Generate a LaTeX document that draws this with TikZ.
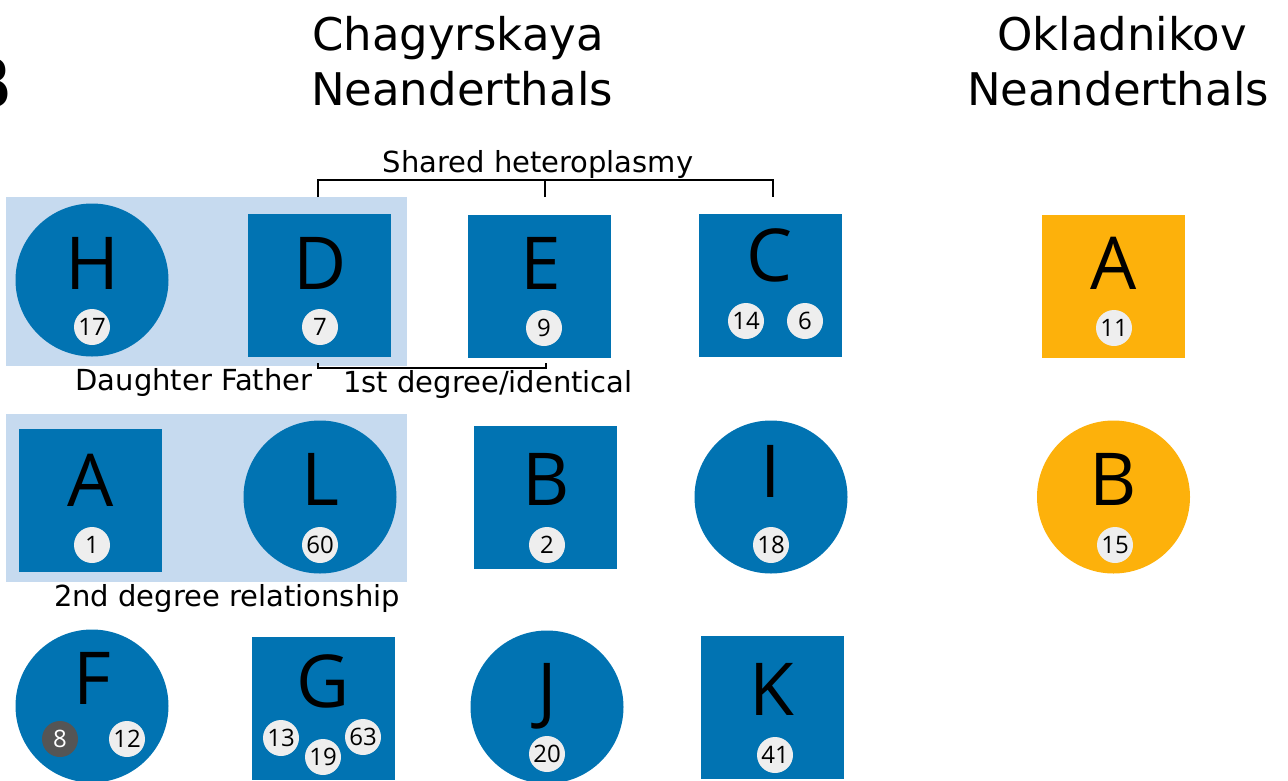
\documentclass[tikz,border=0pt]{standalone}
\usepackage{fontspec}
\setmainfont{DejaVu Sans}
\newfontfamily\opensans{Open Sans}
\definecolor{indblue}{HTML}{0173B2}
\definecolor{indorange}{HTML}{FDB10B}
\definecolor{pairband}{HTML}{C6DAEF}
\definecolor{badgegray}{HTML}{EEEEEE}
\definecolor{badgedark}{HTML}{555555}

\begin{document}
\begin{tikzpicture}[x=1pt, y=-1pt,
    male/.style={rectangle, fill=indblue, minimum size=143pt, inner sep=0pt},
    female/.style={circle, fill=indblue, minimum size=153pt, inner sep=0pt},
    okmale/.style={male, fill=indorange},
    okfemale/.style={female, fill=indorange},
    letter/.style={anchor=base, inner sep=0pt, font=\opensans\fontsize{73}{80}\selectfont},
    badge/.style={circle, fill=badgegray, minimum size=36pt, inner sep=0pt, font=\opensans\fontsize{24}{26}\selectfont},
    darkbadge/.style={badge, fill=badgedark, text=white},
    relnote/.style={anchor=base, inner sep=0pt, font=\fontsize{29}{34}\selectfont},
    heading/.style={anchor=base, inner sep=0pt, font=\fontsize{45}{55}\selectfont},
    bracket/.style={draw, line width=2pt}]
      \useasboundingbox (0,0) rectangle (1288,780);

      % related pairs
      \fill[pairband] (6,197) rectangle (407,366);
      \fill[pairband] (6,414) rectangle (407,582);

      \node[anchor=base east, inner sep=0pt, font=\bfseries\fontsize{70}{80}\selectfont] (panel) at (13,108) {B};
      \node[heading] (chag1) at (458,50) {Chagyrskaya};
      \node[heading] (chag2) at (462,105) {Neanderthals};
      \node[heading] (okla1) at (1122,50) {Okladnikov};
      \node[heading] (okla2) at (1118,105) {Neanderthals};

      % row 1
      \node[female] (H) at (92,280) {};
      \node[letter] (Hl) at (92,289) {H};
      \node[badge] (H17) at (92,327) {17};
      \node[male] (D) at (319.5,285) {};
      \node[letter] (Dl) at (320,289) {D};
      \node[badge] (D7) at (320,327) {7};
      \node[male] (E) at (539.5,286) {};
      \node[letter] (El) at (541,289) {E};
      \node[badge] (E9) at (544,328) {9};
      \node[male] (C) at (770.5,285) {};
      \node[letter] (Cl) at (770,281) {C};
      \node[badge] (C14) at (746,321) {14};
      \node[badge] (C6) at (805,321) {6};
      \node[okmale] (oA) at (1113.5,286) {};
      \node[letter] (oAl) at (1113.5,289) {A};
      \node[badge] (oA11) at (1114,328) {11};

      % row 2
      \node[male] (A) at (90,500.5) {};
      \node[letter] (Al) at (91,506) {A};
      \node[badge] (A1) at (92,545) {1};
      \node[female] (L) at (320,497) {};
      \node[letter] (Ll) at (320,505) {L};
      \node[badge] (L60) at (320,545) {60};
      \node[male] (B) at (545.5,497) {};
      \node[letter] (Bl) at (546,505) {B};
      \node[badge] (B2) at (547,545) {2};
      \node[female] (I) at (771,497) {};
      \node[letter] (Il) at (771,497) {I};
      \node[badge] (I18) at (771,545) {18};
      \node[okfemale] (oB) at (1113.5,497) {};
      \node[letter] (oBl) at (1113.5,505) {B};
      \node[badge] (oB15) at (1115,545) {15};

      % row 3
      \node[female] (F) at (92,706) {};
      \node[letter] (Fl) at (92,704) {F};
      \node[darkbadge] (F8) at (60,739) {8};
      \node[badge] (F12) at (127,739) {12};
      \node[male] (G) at (323.5,708.5) {};
      \node[letter] (Gl) at (323.5,707) {G};
      \node[badge] (G13) at (281,738) {13};
      \node[badge] (G19) at (323,757) {19};
      \node[badge] (G63) at (363,737) {63};
      \node[female] (J) at (547,707) {};
      \node[letter] (Jl) at (547,715) {J};
      \node[badge] (J20) at (547,754) {20};
      \node[male] (K) at (772,707) {};
      \node[letter] (Kl) at (772,715) {K};
      \node[badge] (K41) at (775,755) {41};

      % brackets and notes
      \node[relnote] (shared) at (538,172) {Shared heteroplasmy};
      \coordinate (shD) at (318,197);
      \coordinate (shE) at (545,197);
      \coordinate (shC) at (773,197);
      \draw[bracket] (shD) -- ++(0,-17) -| (shC);
      \draw[bracket] (shE) -- ++(0,-17);

      \coordinate (fiD) at (318,363);
      \coordinate (fiE) at (546,363);
      \draw[bracket] (fiD) -- ++(0,5) -| (fiE);
      \node[relnote] (daufat) at (194,390) {Daughter Father};
      \node[relnote] (first) at (488,392) {1st degree/identical};
      \node[relnote] (second) at (227,606) {2nd degree relationship};

   \end{tikzpicture}
\end{document}
